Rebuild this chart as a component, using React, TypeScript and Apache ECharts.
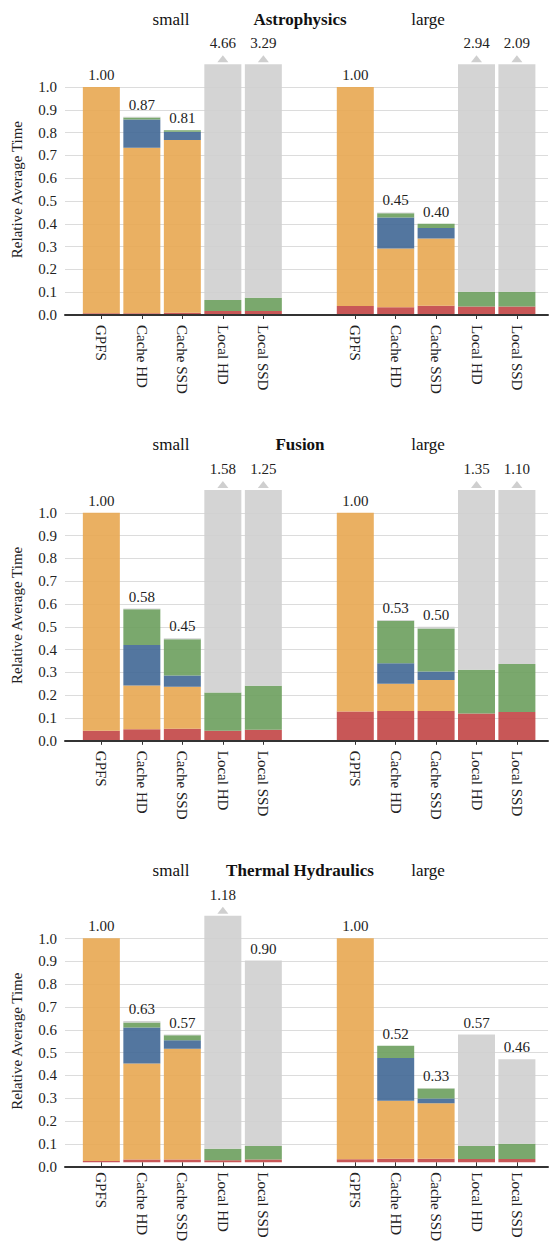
import React, { useEffect, useRef } from "react";
import * as echarts from "echarts";

const categories = ["GPFS", "Cache HD", "Cache SSD", "Local HD", "Local SSD"];
const panelTitles = ["Astrophysics", "Fusion", "Thermal Hydraulics"];
const sizeLabels = ["small", "large"];

// Astrophysics
const astroSmallRed = [0.008, 0.008, 0.01, 0.018, 0.018];
const astroSmallOrange = [0.992, 0.726, 0.758, 0, 0];
const astroSmallBlue = [0, 0.124, 0.036, 0, 0];
const astroSmallGreen = [0, 0.008, 0.006, 0.048, 0.058];
const astroSmallTotal = [1.0, 0.87, 0.81, 4.66, 3.29];

const astroLargeRed = [0.04, 0.034, 0.041, 0.037, 0.037];
const astroLargeOrange = [0.96, 0.258, 0.294, 0, 0];
const astroLargeBlue = [0, 0.136, 0.047, 0, 0];
const astroLargeGreen = [0, 0.018, 0.018, 0.065, 0.065];
const astroLargeTotal = [1.0, 0.45, 0.4, 2.94, 2.09];

// Fusion
const fusionSmallRed = [0.044, 0.051, 0.053, 0.044, 0.048];
const fusionSmallOrange = [0.956, 0.191, 0.184, 0, 0];
const fusionSmallBlue = [0, 0.178, 0.049, 0, 0];
const fusionSmallGreen = [0, 0.157, 0.159, 0.168, 0.193];
const fusionSmallTotal = [1.0, 0.58, 0.45, 1.58, 1.25];

const fusionLargeRed = [0.128, 0.131, 0.131, 0.12, 0.126];
const fusionLargeOrange = [0.872, 0.119, 0.136, 0, 0];
const fusionLargeBlue = [0, 0.09, 0.037, 0, 0];
const fusionLargeGreen = [0, 0.187, 0.189, 0.192, 0.211];
const fusionLargeTotal = [1.0, 0.53, 0.5, 1.35, 1.1];

// Thermal Hydraulics
const thermalSmallRed = [0.006, 0.012, 0.012, 0.009, 0.012];
const thermalSmallOrange = [0.994, 0.429, 0.495, 0, 0];
const thermalSmallBlue = [0, 0.161, 0.037, 0, 0];
const thermalSmallGreen = [0, 0.022, 0.023, 0.051, 0.061];
const thermalSmallTotal = [1.0, 0.63, 0.57, 1.18, 0.9];

const thermalLargeRed = [0.013, 0.016, 0.016, 0.015, 0.015];
const thermalLargeOrange = [0.987, 0.259, 0.247, 0, 0];
const thermalLargeBlue = [0, 0.19, 0.022, 0, 0];
const thermalLargeGreen = [0, 0.055, 0.044, 0.058, 0.068];
const thermalLargeTotal = [1.0, 0.52, 0.33, 0.57, 0.46];

const panelData = [
  [
    [astroSmallRed, astroSmallOrange, astroSmallBlue, astroSmallGreen, astroSmallTotal],
    [astroLargeRed, astroLargeOrange, astroLargeBlue, astroLargeGreen, astroLargeTotal],
  ],
  [
    [fusionSmallRed, fusionSmallOrange, fusionSmallBlue, fusionSmallGreen, fusionSmallTotal],
    [fusionLargeRed, fusionLargeOrange, fusionLargeBlue, fusionLargeGreen, fusionLargeTotal],
  ],
  [
    [thermalSmallRed, thermalSmallOrange, thermalSmallBlue, thermalSmallGreen, thermalSmallTotal],
    [thermalLargeRed, thermalLargeOrange, thermalLargeBlue, thermalLargeGreen, thermalLargeTotal],
  ],
];

const FONT = "Liberation Serif";
const MAX = 1.1;
const W = 550;
const H = 1244;
const PANEL_STEP = 425.8;
const AXIS_Y0 = 315;
const PLOT_H = 250.8;
const SEG_COLORS = ["#c24545", "#e8a751", "#406795", "#6c9e5d", "#cfcfcf"];
const GROUP_POS = [
  { left: 81.1, width: 202.5, labelX: 171 },
  { left: 335.1, width: 202, labelX: 428 },
];

function buildOption() {
  const grid: any[] = [];
  const xAxis: any[] = [];
  const yAxis: any[] = [];
  const series: any[] = [];
  const graphic: any[] = [];

  panelData.forEach((groups, pi) => {
    const base = AXIS_Y0 + pi * PANEL_STEP;
    const top = base - PLOT_H;
    const bottom = H - base;

    const bg = grid.length;
    grid.push({ left: 65, width: 483, top, bottom });
    xAxis.push({
      gridIndex: bg,
      type: "value",
      min: 0,
      max: 1,
      z: 10,
      axisLine: { show: true, lineStyle: { color: "#333", width: 2 } },
      axisTick: { show: false },
      axisLabel: { show: false },
      splitLine: { show: false },
    });
    yAxis.push({
      gridIndex: bg,
      type: "value",
      min: 0,
      max: MAX,
      interval: 0.1,
      name: "Relative Average Time",
      nameLocation: "middle",
      nameGap: 41,
      nameTextStyle: { fontSize: 15, fontFamily: FONT, color: "#222" },
      axisLine: { show: false },
      axisTick: { show: false },
      axisLabel: {
        fontSize: 15,
        fontFamily: FONT,
        color: "#222",
        margin: 8,
        showMaxLabel: false,
        formatter: (v: number) => (v > 1.05 ? "" : v.toFixed(1)),
      },
      splitLine: {
        show: true,
        showMinLine: false,
        showMaxLine: false,
        lineStyle: { color: "#dcdcdc", width: 1 },
      },
    });

    graphic.push({
      type: "text",
      x: 300,
      y: 19 + pi * PANEL_STEP,
      style: {
        text: panelTitles[pi],
        fontSize: 17,
        fontWeight: "bold",
        fontFamily: FONT,
        fill: "#111",
        align: "center",
        verticalAlign: "middle",
      },
    });

    groups.forEach((arrs, gi) => {
      const [red, orange, blue, green, total] = arrs;
      const pos = GROUP_POS[gi];
      const g = grid.length;
      grid.push({ left: pos.left, width: pos.width, top, bottom });
      xAxis.push({
        gridIndex: g,
        type: "category",
        data: categories,
        axisLine: { show: false },
        axisTick: { show: true, alignWithLabel: true, length: 4, lineStyle: { color: "#333" } },
        axisLabel: { rotate: -90, margin: 10, fontSize: 15, fontFamily: FONT, color: "#222" },
        splitLine: { show: false },
      });
      yAxis.push({ gridIndex: g, type: "value", min: 0, max: MAX, show: false });

      const gray = total.map((t, i) => {
        const s = red[i] + orange[i] + blue[i] + green[i];
        return Math.max(0, Math.round((Math.min(t, MAX) - s) * 10000) / 10000);
      });
      const segs = [red, orange, blue, green, gray];
      segs.forEach((d, si) => {
        series.push({
          type: "bar",
          xAxisIndex: g,
          yAxisIndex: g,
          stack: `p${pi}g${gi}`,
          barWidth: 37,
          data: d,
          silent: true,
          itemStyle: { color: SEG_COLORS[si], opacity: 0.9 },
        });
      });

      series.push({
        type: "custom",
        xAxisIndex: g,
        yAxisIndex: g,
        z: 5,
        silent: true,
        clip: false,
        data: total.map((t, i) => [i, t]),
        renderItem: (params: any, api: any) => {
          const i = api.value(0);
          const t = api.value(1);
          const capped = t >= MAX - 1e-9;
          const pt = api.coord([i, Math.min(t, MAX)]);
          const label = {
            type: "text",
            x: pt[0],
            y: pt[1] - (capped ? 21 : 12),
            style: {
              text: t.toFixed(2),
              fill: "#222",
              fontSize: 15,
              fontFamily: FONT,
              align: "center",
              verticalAlign: "middle",
            },
          };
          if (!capped) return label;
          return {
            type: "group",
            children: [
              {
                type: "polygon",
                shape: {
                  points: [
                    [pt[0] - 5.5, pt[1] - 2],
                    [pt[0] + 5.5, pt[1] - 2],
                    [pt[0], pt[1] - 9],
                  ],
                },
                style: { fill: "#cfcfcf" },
              },
              label,
            ],
          };
        },
      });

      graphic.push({
        type: "text",
        x: pos.labelX,
        y: 19 + pi * PANEL_STEP,
        style: {
          text: sizeLabels[gi],
          fontSize: 17,
          fontFamily: FONT,
          fill: "#111",
          align: "center",
          verticalAlign: "middle",
        },
      });
    });
  });

  return {
    animation: false,
    backgroundColor: "#ffffff",
    textStyle: { fontFamily: FONT },
    grid,
    xAxis,
    yAxis,
    series,
    graphic,
  };
}

export default function App() {
  const ref = useRef<HTMLDivElement>(null);
  useEffect(() => {
    if (!ref.current) return;
    const chart = echarts.init(ref.current, null, { renderer: "svg" });
    chart.setOption(buildOption() as any);
    return () => chart.dispose();
  }, []);
  return (
    <div
      ref={ref}
      style={{ position: "absolute", left: 0, top: 0, width: W, height: H }}
    />
  );
}
